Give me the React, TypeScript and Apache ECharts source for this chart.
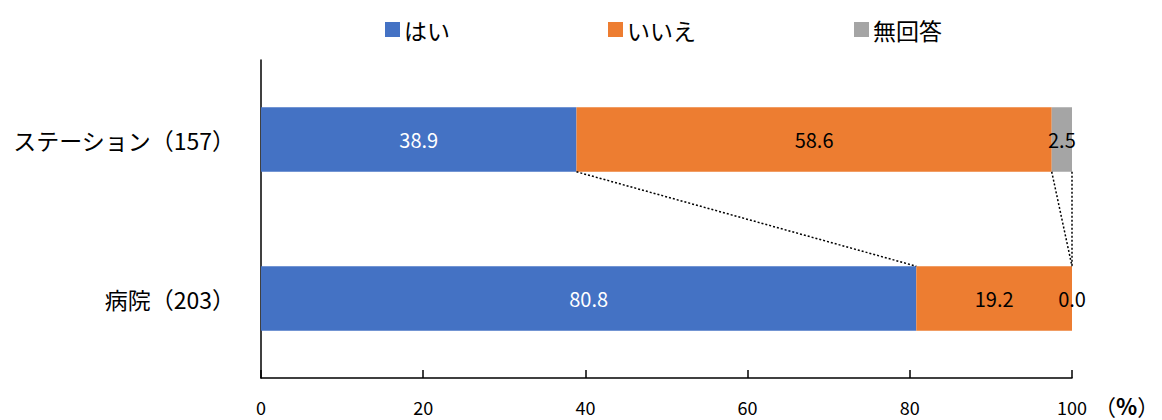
import React, { useEffect, useRef } from "react";
import * as echarts from "echarts";

const categories = ["ステーション（157）", "病院（203）"];
const seriesNames = ["はい", "いいえ", "無回答"];
const yesValues = [38.9, 80.8];
const noValues = [58.6, 19.2];
const naValues = [2.5, 0.0];
const xTicks = { min: 0, max: 100, interval: 20 };
const colors = ["#4472C4", "#ED7D31", "#A5A5A5"];
const labelColors = ["#ffffff", "#000000", "#000000"];

const FONT = "'Noto Sans CJK JP', 'Noto Sans', sans-serif";

export default function App() {
  const ref = useRef<HTMLDivElement>(null);
  useEffect(() => {
    if (!ref.current) return;
    const chart = echarts.init(ref.current, null, { renderer: "svg" });
    const all = [yesValues, noValues, naValues];
    const cum = categories.map((_, ci) => {
      let s = 0;
      return all.map((arr) => (s += arr[ci]));
    });
    const connectors = all.map((_, k) => [cum[0][k], cum[1][k], 0]);
    const barRatio = 0.406;

    chart.setOption({
      animation: false,
      backgroundColor: "#ffffff",
      textStyle: { fontFamily: FONT },
      legend: {
        data: seriesNames,
        top: 13,
        left: 380,
        itemGap: 158,
        itemWidth: 15,
        itemHeight: 15,
        icon: "rect",
        textStyle: { fontSize: 23, color: "#000", fontFamily: FONT, padding: [0, 0, 0, -1] },
      },
      grid: { left: 261, right: 90, top: 60, bottom: 42, containLabel: false },
      xAxis: {
        type: "value",
        min: xTicks.min,
        max: xTicks.max,
        interval: xTicks.interval,
        splitLine: { show: false },
        axisLine: { show: true, lineStyle: { color: "#000", width: 1.5 } },
        axisTick: { show: true, inside: true, length: 8, lineStyle: { color: "#000", width: 1.5 } },
        axisLabel: { color: "#000", fontSize: 18, margin: 20, fontFamily: FONT },
      },
      yAxis: {
        type: "category",
        data: categories,
        inverse: true,
        axisLine: { show: true, lineStyle: { color: "#000", width: 1.5 } },
        axisTick: { show: false },
        axisLabel: { color: "#000", fontSize: 23, margin: 26, fontFamily: FONT },
      },
      graphic: [
        {
          type: "text",
          left: 1094,
          top: 394,
          style: {
            text: "{a|（}{b|%}{a|）}",
            rich: {
              a: { fontSize: 22, fontFamily: FONT, fill: "#000" },
              b: { fontSize: 22, fontFamily: FONT, fontWeight: "bold", fill: "#000" },
            },
          },
        },
      ],
      series: [
        ...all.map((arr, i) => ({
          name: seriesNames[i],
          type: "bar",
          stack: "total",
          barWidth: "40.6%",
          data: arr,
          itemStyle: { color: colors[i] },
          label: {
            show: true,
            position: "inside",
            color: labelColors[i],
            fontSize: 20,
            fontFamily: FONT,
            formatter: (p: any) => Number(p.value).toFixed(1),
          },
        })),
        {
          type: "custom",
          name: "connector",
          z: 5,
          silent: true,
          encode: { x: [0, 1], y: 2 },
          data: connectors,
          renderItem: (params: any, api: any) => {
            const a = api.coord([api.value(0), 0]);
            const b = api.coord([api.value(1), 1]);
            const band = api.size([0, 1])[1];
            const half = (band * barRatio) / 2;
            return {
              type: "line",
              shape: { x1: a[0], y1: a[1] + half, x2: b[0], y2: b[1] - half },
              style: { stroke: "#000", lineWidth: 1.5, lineDash: [2, 2] },
            };
          },
        },
      ],
    });
    return () => chart.dispose();
  }, []);
  return (
    <div
      ref={ref}
      style={{ position: "absolute", left: 0, top: 0, width: 1162, height: 420, background: "#fff" }}
    />
  );
}
